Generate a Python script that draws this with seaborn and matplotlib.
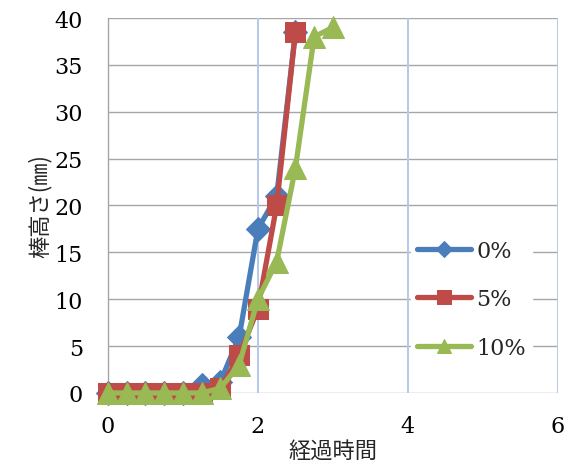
import matplotlib
matplotlib.use("Agg")
import matplotlib.pyplot as plt
import seaborn as sns
import pandas as pd

# elapsed time (h) and rod height (mm) for each additive ratio
t_0 = [0, 0.25, 0.5, 0.75, 1.0, 1.25, 1.5, 1.75, 2.0, 2.25, 2.5]
h_0 = [0, 0, 0, 0, 0, 0.8, 1.2, 6, 17.5, 21, 38.5]
t_5 = [0, 0.25, 0.5, 0.75, 1.0, 1.25, 1.5, 1.75, 2.0, 2.25, 2.5]
h_5 = [0, 0, 0, 0, 0, 0, 0.5, 4, 9, 20, 38.5]
t_10 = [0, 0.25, 0.5, 0.75, 1.0, 1.25, 1.5, 1.75, 2.0, 2.25, 2.5, 2.75, 3.0]
h_10 = [0, 0, 0, 0, 0, 0, 0.5, 3, 10, 14, 24, 38, 39]
series_names = ["0%", "5%", "10%"]
x_ticks = [0, 2, 4, 6]
y_ticks = [0, 5, 10, 15, 20, 25, 30, 35, 40]

df = pd.concat([
    pd.DataFrame({"t": t_0, "h": h_0, "s": series_names[0]}),
    pd.DataFrame({"t": t_5, "h": h_5, "s": series_names[1]}),
    pd.DataFrame({"t": t_10, "h": h_10, "s": series_names[2]}),
])

sns.set_style("white")
plt.rcParams["font.family"] = ["DejaVu Serif"]

fig = plt.figure(figsize=(5.74, 4.64), dpi=100)
ax = fig.add_axes([0.188, 0.151, 0.784, 0.808])

palette = {"0%": "#4A7EBB", "5%": "#BE4B48", "10%": "#98B954"}
markers = {"0%": "D", "5%": "s", "10%": "^"}
sizes = {"0%": 12, "5%": 14, "10%": 16}
legend_sizes = {"0%": 8, "5%": 9.5, "10%": 10}

for name in series_names:
    sub = df[df["s"] == name]
    sns.lineplot(data=sub, x="t", y="h", ax=ax, color=palette[name],
                 marker=markers[name], markersize=sizes[name],
                 markeredgecolor=palette[name], linewidth=3.8,
                 label=name, clip_on=False, zorder=3)

ax.set_xlim(0, 6)
ax.set_ylim(0, 40)
ax.set_xticks(x_ticks)
ax.set_yticks(y_ticks)

# horizontal grey grid, light-blue vertical grid
for y in y_ticks:
    ax.axhline(y, color="#A6A6A6", lw=1.0, zorder=0)
for x in x_ticks[1:]:
    ax.axvline(x, color="#B4C8E8", lw=1.4, zorder=0)

for s in ["top", "right", "bottom"]:
    ax.spines[s].set_visible(False)
ax.spines["left"].set_color("#A6A6A6")
ax.spines["left"].set_linewidth(1.0)

ax.tick_params(axis="both", length=0, labelsize=16, colors="#000000")
ax.tick_params(axis="x", pad=16)
ax.tick_params(axis="y", pad=18)

cjk = ["Noto Sans CJK JP", "DejaVu Sans"]
ax.set_xlabel("経過時間", family=cjk, fontsize=16, labelpad=1)
ax.set_ylabel("棒高さ(㎜)", family=cjk, fontsize=16, labelpad=2)

leg = ax.legend(loc="center left", bbox_to_anchor=(0.648, 0.25),
                frameon=True, fancybox=False, framealpha=1,
                edgecolor="white", facecolor="white", fontsize=16,
                handlelength=2.4, labelspacing=1.2, borderpad=0.3,
                handletextpad=0.25)
for h, name in zip(leg.legend_handles, series_names):
    h.set_markersize(legend_sizes[name])

fig.savefig("out.png", dpi=100)
